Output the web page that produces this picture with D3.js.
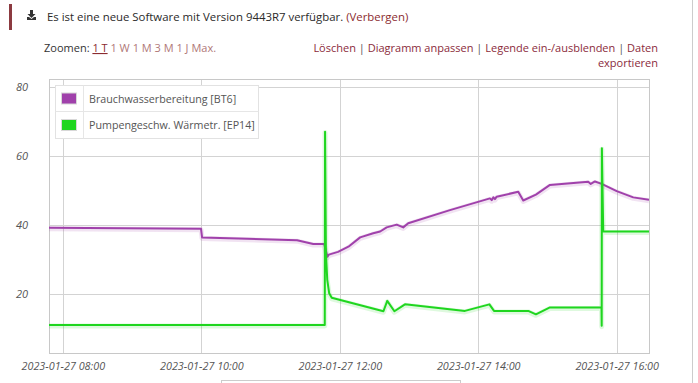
<!DOCTYPE html>
<html>
<head>
<meta charset="utf-8">
<script src="https://cdn.jsdelivr.net/npm/d3@7"></script>
<style>
  html, body { margin: 0; padding: 0; background: #fff; }
  svg { display: block; font-family: "Open Sans", sans-serif; }
</style>
</head>
<body>
<svg id="chart" width="698" height="383"></svg>
<script>
// ---------- data ----------
const day = "2023-01-27";
const seriesNames = ["Brauchwasserbereitung [BT6]", "Pumpengeschw. Wärmetr. [EP14]"];
const bt6Times = ["07:48:00","09:59:45","10:00:40","11:23:00","11:37:00","11:46:30","11:49:20","11:50:30","11:58:30","12:07:30","12:17:40","12:29:00","12:35:00","12:40:40","12:49:20","12:55:00","12:59:20","13:35:30","14:10:10","14:11:40","14:13:10","14:14:30","14:16:00","14:34:40","14:39:00","14:50:00","15:02:10","15:35:20","15:37:30","15:41:10","15:47:00","16:00:00","16:14:20","16:28:00"];
const bt6Values = [39.2,38.9,36.4,35.6,34.5,34.5,30.8,31.4,32.2,33.7,36.4,37.6,38.1,39.3,40.1,39.3,40.5,44.3,47.7,47.2,48.0,47.5,48.2,49.6,47.1,48.8,51.6,52.5,51.9,52.6,51.9,49.8,48.0,47.3];
const ep14Times = ["07:48:00","11:47:00","11:47:15","11:48:00","11:49:10","11:50:50","11:53:00","12:37:50","12:41:10","12:47:20","12:56:30","13:48:30","14:09:40","14:13:40","14:43:20","14:50:00","15:02:10","15:46:50","15:47:00","15:47:10","15:48:20","16:28:00"];
const ep14Values = [11.0,11.0,67.0,31.8,24.1,20.2,18.9,15.0,18.0,15.0,17.0,15.1,17.0,15.1,15.1,14.1,16.1,16.1,10.8,62.2,38.1,38.1];
const yTicks = [20, 40, 60, 80];
const xTickTimes = ["08:00:00","10:00:00","12:00:00","14:00:00","16:00:00"];
const xTickLabels = ["2023-01-27 08:00","2023-01-27 10:00","2023-01-27 12:00","2023-01-27 14:00","2023-01-27 16:00"];
const xDomain = ["07:48:00","16:28:00"];
const yDomain = [2.9, 82.3];
const colors = ["#a041ab", "#1fd61f"];

// ---------- setup ----------
const parse = d3.timeParse("%Y-%m-%d %H:%M:%S");
const T = s => parse(day + " " + s);
const svg = d3.select("#chart");
const L = 49, R = 649, TOP = 79, BOT = 353;

const x = d3.scaleTime().domain(xDomain.map(T)).range([L, R]);
const y = d3.scaleLinear().domain(yDomain).range([BOT, TOP]);

// header
svg.append("rect").attr("x", 9).attr("y", 4).attr("width", 3).attr("height", 26).attr("fill", "#8c3a40");
const icon = svg.append("g").attr("transform", "translate(27,10)").attr("fill", "#333");
icon.append("path").attr("d", "M3,0 h3 v4 h2.5 l-4,4 l-4,-4 h2.5 z");
icon.append("path").attr("d", "M0,7 h2 l2.5,2 l2.5,-2 h2 v3 h-9 z");
const head = svg.append("text").attr("x", 47).attr("y", 21).attr("font-size", 11.4).attr("fill", "#2a2a2a").attr("font-weight", 500);
head.append("tspan").text("Es ist eine neue Software mit Version 9443R7 verfügbar. ");
head.append("tspan").attr("fill", "#8b2b30").text("(Verbergen)");

const zoomT = svg.append("text").attr("x", 44).attr("y", 52).attr("font-size", 11).attr("fill", "#333");
zoomT.append("tspan").text("Zoomen: ");
zoomT.append("tspan").attr("fill", "#8b2b30").attr("text-decoration", "underline").text("1 T");
zoomT.append("tspan").attr("fill", "#b07878").text(" 1 W 1 M 3 M 1 J Max.");

const links = svg.append("text").attr("x", 658).attr("y", 52).attr("font-size", 11).attr("text-anchor", "end").attr("fill", "#8b2b3b");
links.append("tspan").text("Löschen");
links.append("tspan").attr("fill", "#555").text(" |  ");
links.append("tspan").text("Diagramm anpassen");
links.append("tspan").attr("fill", "#555").text(" |  ");
links.append("tspan").text("Legende ein-/ausblenden");
links.append("tspan").attr("fill", "#555").text(" |  ");
links.append("tspan").text("Daten");
svg.append("text").attr("x", 658).attr("y", 67).attr("font-size", 11).attr("text-anchor", "end").attr("fill", "#8b2b3b").text("exportieren");

// right page border and bottom box
svg.append("line").attr("x1", 692.5).attr("x2", 692.5).attr("y1", 0).attr("y2", 383).attr("stroke", "#ccc");
svg.append("rect").attr("x", 221.5).attr("y", 380.5).attr("width", 239).attr("height", 20).attr("fill", "none").attr("stroke", "#ccc");

// grid
const gx = svg.append("g").attr("transform", `translate(0,${BOT})`)
  .call(d3.axisBottom(x).tickValues(xTickTimes.map(T)).tickSize(-(BOT - TOP)).tickFormat(""));
gx.select(".domain").remove();
gx.selectAll("line").attr("stroke", "#d3d3d3").attr("shape-rendering", "crispEdges");
const gy = svg.append("g").attr("transform", `translate(${L},0)`)
  .call(d3.axisLeft(y).tickValues(yTicks).tickSize(-(R - L)).tickFormat(""));
gy.select(".domain").remove();
gy.selectAll("line").attr("stroke", "#d3d3d3").attr("shape-rendering", "crispEdges");

// frame
svg.append("rect").attr("x", L + 0.5).attr("y", TOP + 0.5).attr("width", R - L).attr("height", BOT - TOP)
  .attr("fill", "none").attr("stroke", "#c8c8c8").attr("shape-rendering", "crispEdges");

// tick labels
const ax = svg.append("g").attr("transform", `translate(0,${BOT})`)
  .call(d3.axisBottom(x).tickValues(xTickTimes.map(T)).tickSize(0).tickPadding(9)
    .tickFormat((d, i) => xTickLabels[i]));
ax.select(".domain").remove();
ax.selectAll("text").attr("font-size", 10.8).attr("font-style", "italic").attr("fill", "#555").attr("font-family", "Open Sans, sans-serif");
const ay = svg.append("g").attr("transform", `translate(28,0)`)
  .call(d3.axisLeft(y).tickValues(yTicks).tickSize(0).tickPadding(0));
ay.select(".domain").remove();
ay.selectAll("text").attr("font-size", 11).attr("font-style", "italic").attr("fill", "#555").attr("font-family", "Open Sans, sans-serif");

// lines
svg.append("clipPath").attr("id", "clip").append("rect").attr("x", L).attr("y", TOP).attr("width", R - L).attr("height", BOT - TOP);
const line = d3.line().x(d => x(d[0])).y(d => y(d[1]));
const series = [
  bt6Times.map((t, i) => [T(t), bt6Values[i]]),
  ep14Times.map((t, i) => [T(t), ep14Values[i]])
];
const lg = svg.append("g").attr("clip-path", "url(#clip)");
series.forEach((s, i) => {
  lg.append("path").datum(s).attr("d", line).attr("fill", "none").attr("stroke", colors[i])
    .attr("stroke-width", 5).attr("stroke-opacity", 0.15).attr("transform", "translate(0,1)").attr("stroke-linejoin", "round");
  lg.append("path").datum(s).attr("d", line).attr("fill", "none").attr("stroke", colors[i])
    .attr("stroke-width", 2).attr("stroke-linejoin", "round");
});

// legend
const leg = svg.append("g");
leg.append("rect").attr("x", 55.5).attr("y", 85.5).attr("width", 203).attr("height", 53)
  .attr("fill", "#fff").attr("stroke", "#e2e2e2");
leg.append("line").attr("x1", 55.5).attr("x2", 258.5).attr("y1", 111.5).attr("y2", 111.5).attr("stroke", "#e6e6e6");
leg.append("line").attr("x1", 83.5).attr("x2", 83.5).attr("y1", 85.5).attr("y2", 138.5).attr("stroke", "#e6e6e6");
seriesNames.forEach((n, i) => {
  const cy = 98.5 + i * 26.5;
  leg.append("rect").attr("x", 61.5).attr("y", cy - 5.5).attr("width", 15).attr("height", 11)
    .attr("fill", colors[i]).attr("stroke", "#d8d8d8");
  leg.append("text").attr("x", 89).attr("y", cy + 4).attr("font-size", 10.7).attr("fill", "#555").text(n);
});
</script>
</body>
</html>
